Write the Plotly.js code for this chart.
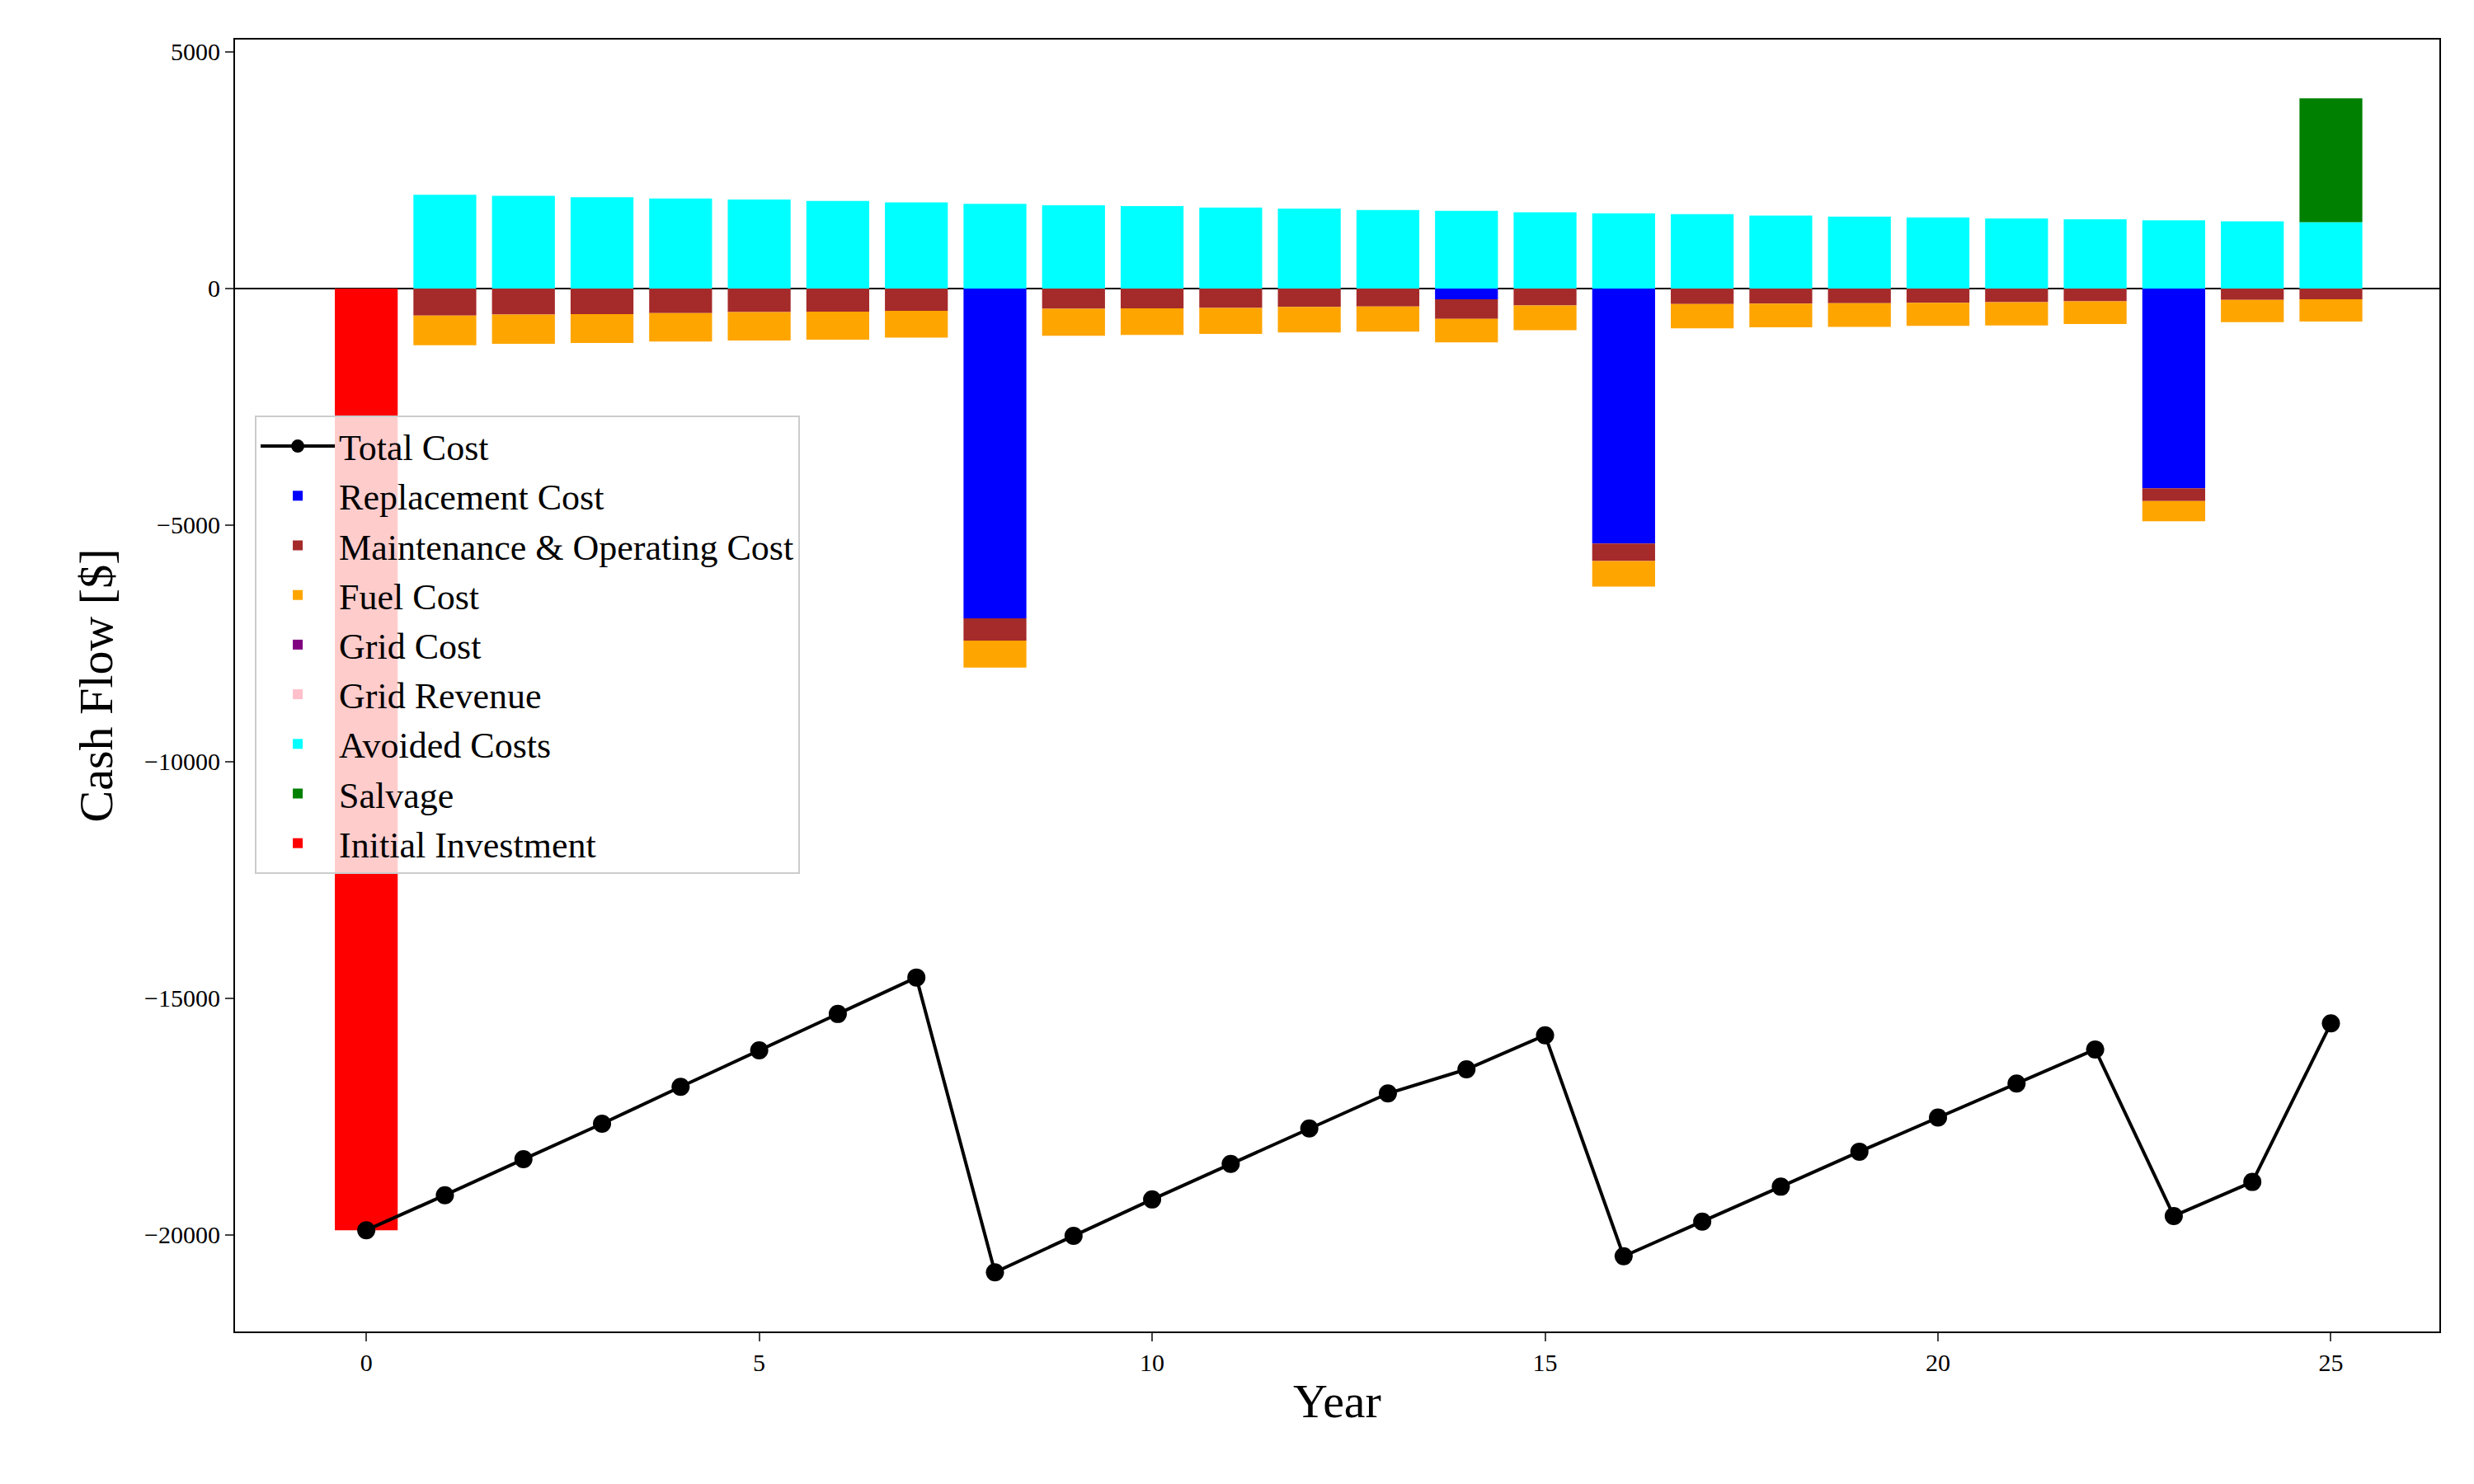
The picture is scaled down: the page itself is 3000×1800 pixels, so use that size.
<!DOCTYPE html>
<html><head><meta charset="utf-8">
<script src="https://cdn.plot.ly/plotly-3.0.1.min.js"></script>
<style>body{margin:0;background:#fff}#chart{width:3000px;height:1800px}</style>
</head><body><div id="chart"></div>
<script>
const years = Array.from({length:26},(_,i)=>i);
const totalCost = [-19900,-19160,-18400,-17650,-16870,-16100,-15330,-14560,-20790,-20020,-19250,-18500,-17750,-17010,-16500,-15780,-20450,-19720,-18980,-18240,-17520,-16800,-16080,-19600,-18880,-15530];
const replacement = [0,0,0,0,0,0,0,0,-6970,0,0,0,0,0,-230,0,-5390,0,0,0,0,0,0,-4220,0,0];
const maintenance = [0,-570,-550,-540,-520,-500,-490,-470,-470,-430,-420,-410,-390,-380,-410,-360,-370,-330,-320,-310,-300,-290,-270,-270,-240,-230];
const fuel = [0,-630,-620,-610,-600,-600,-590,-570,-570,-570,-560,-550,-540,-530,-500,-520,-540,-510,-500,-500,-490,-490,-480,-430,-470,-470];
const gridCost = new Array(26).fill(0);
const gridRevenue = new Array(26).fill(0);
const avoided = [0,1980,1960,1930,1900,1880,1850,1820,1790,1760,1740,1710,1690,1660,1640,1610,1590,1570,1540,1520,1500,1480,1460,1440,1420,1400];
const salvage = [0,0,0,0,0,0,0,0,0,0,0,0,0,0,0,0,0,0,0,0,0,0,0,0,0,2620];
const initial = [-19900,0,0,0,0,0,0,0,0,0,0,0,0,0,0,0,0,0,0,0,0,0,0,0,0,0];

function bar(name,y,color){return {type:'bar',name:name,x:years,y:y,width:0.8,marker:{color:color,line:{width:0}}};}
const traces = [
  {type:'scatter',mode:'lines+markers',name:'Total Cost',x:years,y:totalCost,line:{color:'black',width:4},marker:{color:'black',size:22}},
  bar('Replacement Cost',replacement,'blue'),
  bar('Maintenance & Operating Cost',maintenance,'brown'),
  bar('Fuel Cost',fuel,'orange'),
  bar('Grid Cost',gridCost,'purple'),
  bar('Grid Revenue',gridRevenue,'pink'),
  bar('Avoided Costs',avoided,'cyan'),
  bar('Salvage',salvage,'green'),
  bar('Initial Investment',initial,'red')
];
const font = {family:'Liberation Serif, Times New Roman, serif',color:'black'};
const layout = {
  barmode:'relative', font:font, paper_bgcolor:'white', plot_bgcolor:'white',
  margin:{l:285,r:42,t:48,b:185,autoexpand:false},
  xaxis:{range:[-1.67,26.38],tickvals:[0,5,10,15,20,25],ticks:'outside',ticklen:10,tickwidth:2,showgrid:false,zeroline:false,
    showline:true,mirror:true,linecolor:'black',linewidth:2,tickfont:{...font,size:30},automargin:false,
    title:{text:'Year',font:{...font,size:58},standoff:10}},
  yaxis:{range:[-22040,5260],tickvals:[5000,0,-5000,-10000,-15000,-20000],ticktext:['5000','0','\u22125000','\u221210000','\u221215000','\u221220000'],
    ticks:'outside',ticklen:10,tickwidth:2,showgrid:false,zeroline:true,zerolinecolor:'black',zerolinewidth:2,
    showline:true,mirror:true,linecolor:'black',linewidth:2,tickfont:{...font,size:30},
    title:{text:'Cash Flow [$]',font:{...font,size:58},standoff:20}},
  legend:{x:0.009,y:0.709,xanchor:'left',yanchor:'top',font:{...font,size:44},itemwidth:90,tracegroupgap:0,
    bgcolor:'rgba(255,255,255,0.8)',bordercolor:'#ccc',borderwidth:2,traceorder:'normal'},
  showlegend:true
};
Plotly.newPlot('chart',traces,layout,{displayModeBar:false});
</script></body></html>
